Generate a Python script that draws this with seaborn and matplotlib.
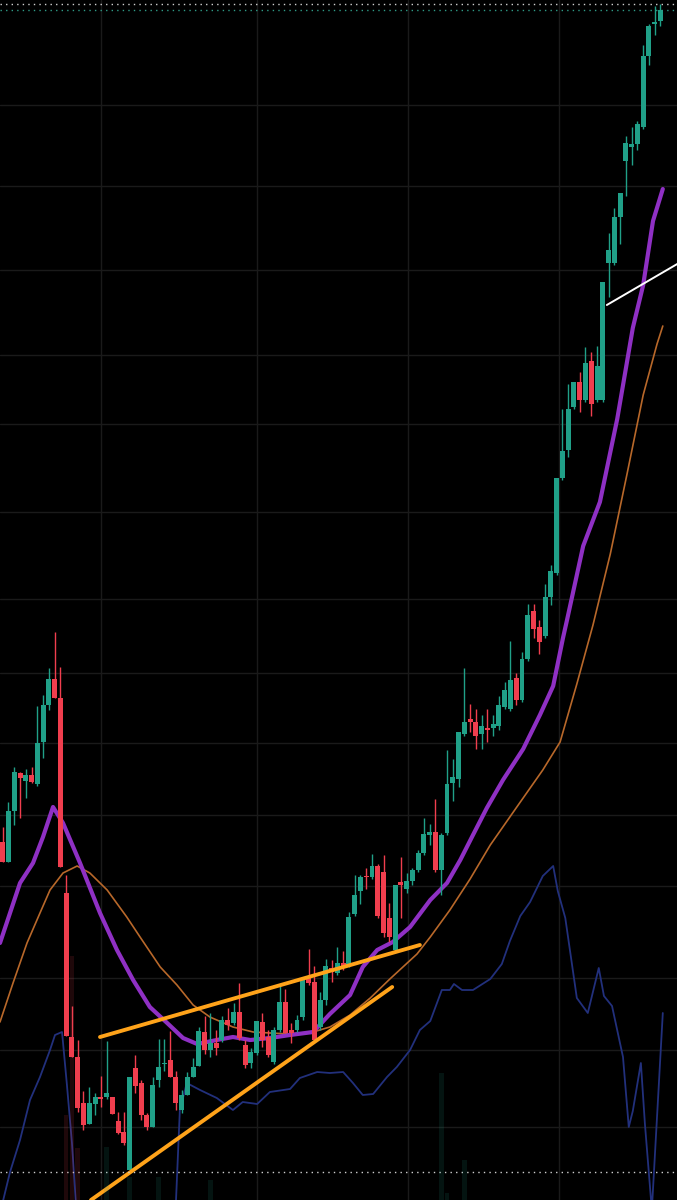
import numpy as np
import pandas as pd
import matplotlib
matplotlib.use("Agg")
import matplotlib.pyplot as plt
import seaborn as sns

# Bougies (index de barre = position), prix en unités du graphique
opens = [35.8, 33.8, 38.9, 42.7, 41.9, 42.5, 41.6, 45.8, 49.5, 52.1,
         50.2, 30.7, 16.3, 14.3, 9.7, 7.6, 9.6, 10.3, 10.3, 10.3,
         7.9, 6.8, 3.0, 13.2, 11.7, 8.5, 7.3, 12.0, 13.6, 14.0,
         12.3, 9.0, 10.5, 12.3, 13.4, 16.8, 15.0, 15.7, 16.0, 18.0,
         17.7, 18.8, 15.5, 13.7, 14.7, 17.8, 16.3, 13.8, 17.0, 19.8,
         17.0, 17.0, 18.3, 22.2, 21.8, 17.3, 20.0, 23.2, 22.7, 23.7,
         23.5, 28.6, 30.9, 32.4, 32.3, 33.4, 32.8, 28.2, 25.0, 31.8,
         31.1, 31.9, 33.0, 34.7, 36.5, 36.8, 33.0, 36.7, 41.7, 42.1,
         46.6, 48.1, 47.8, 46.6, 47.2, 47.2, 47.4, 49.3, 49.1, 52.2,
         50.0, 54.1, 58.9, 57.3, 56.4, 60.3, 62.7, 72.2, 75.0, 79.3,
         81.8, 80.0, 83.9, 80.0, 80.0, 93.7, 93.7, 98.3, 103.9, 105.3,
         105.6, 107.3, 114.4, 117.6, 117.9]
highs = [37.3, 39.8, 43.3, 42.8, 43.1, 43.3, 49.4, 50.5, 53.2, 56.8,
         53.3, 32.5, 19.4, 16.0, 10.9, 11.3, 10.7, 12.4, 15.9, 10.3,
         8.8, 8.8, 12.3, 14.5, 12.0, 8.7, 12.3, 16.1, 16.1, 16.9,
         12.9, 11.0, 12.8, 14.2, 17.3, 18.4, 18.7, 17.0, 18.4, 19.2,
         19.7, 21.7, 16.0, 15.2, 17.9, 18.7, 17.0, 17.3, 21.6, 21.1,
         17.7, 18.5, 22.3, 25.1, 23.4, 20.8, 24.1, 24.0, 25.3, 24.9,
         28.8, 32.5, 32.5, 33.2, 34.6, 33.6, 34.5, 29.7, 31.5, 34.3,
         32.7, 33.2, 35.0, 38.2, 37.6, 40.1, 36.7, 45.0, 44.1, 46.8,
         53.2, 49.6, 49.1, 48.5, 49.1, 48.5, 50.4, 51.8, 55.9, 52.7,
         54.8, 59.6, 59.6, 58.0, 61.6, 63.5, 72.2, 79.1, 81.6, 81.8,
         82.8, 85.3, 84.8, 85.4, 91.8, 96.7, 99.2, 100.7, 106.4, 107.3,
         107.9, 115.5, 117.6, 119.4, 119.6]
lows = [33.8, 33.8, 37.5, 38.2, 40.2, 41.7, 41.4, 44.2, 49.0, 50.2,
        33.3, 16.4, 14.3, 8.8, 7.0, 7.6, 8.5, 9.3, 10.1, 8.6,
        6.6, 5.5, 2.8, 10.7, 8.0, 7.0, 7.3, 11.3, 12.9, 12.3,
        9.0, 8.7, 10.5, 12.3, 13.4, 14.6, 14.3, 14.5, 15.8, 17.0,
        17.5, 16.0, 13.2, 13.2, 14.5, 15.3, 14.3, 13.6, 16.8, 16.7,
        15.7, 16.8, 18.0, 21.5, 15.8, 17.0, 19.5, 21.8, 22.5, 23.0,
        23.3, 28.4, 29.6, 31.1, 32.1, 28.2, 26.3, 25.8, 24.8, 28.2,
        30.7, 31.5, 32.8, 34.5, 35.5, 32.8, 30.5, 36.5, 39.9, 41.3,
        46.4, 46.8, 45.1, 45.1, 45.8, 46.4, 47.0, 49.1, 48.9, 49.5,
        49.8, 53.9, 56.2, 54.6, 56.2, 59.5, 62.5, 72.0, 74.3, 79.1,
        78.8, 79.8, 78.4, 79.8, 79.8, 90.3, 93.5, 95.6, 100.4, 103.5,
        105.0, 107.1, 113.5, 116.5, 117.4]
closes = [33.8, 38.9, 42.8, 42.2, 42.5, 41.8, 45.7, 49.5, 52.1, 50.2,
          33.3, 16.4, 14.3, 9.2, 7.5, 9.7, 10.3, 10.1, 10.7, 8.6,
          6.7, 5.7, 12.3, 11.4, 8.5, 7.3, 11.5, 13.3, 13.7, 12.3,
          9.7, 10.5, 12.3, 13.3, 16.9, 15.0, 15.7, 15.2, 18.0, 17.5,
          18.8, 16.2, 13.5, 14.8, 17.9, 16.0, 14.5, 17.0, 19.8, 16.7,
          16.7, 18.0, 22.2, 21.7, 16.0, 20.0, 23.4, 22.8, 23.7, 23.3,
          28.3, 30.5, 32.3, 32.3, 33.4, 28.4, 26.7, 26.3, 31.5, 31.5,
          31.9, 33.0, 34.7, 36.6, 36.8, 33.0, 36.5, 41.6, 42.3, 46.8,
          47.8, 47.8, 46.4, 47.4, 47.0, 47.6, 49.5, 51.0, 52.0, 50.0,
          54.1, 58.5, 57.1, 55.8, 60.3, 62.9, 72.2, 74.9, 79.1, 81.8,
          80.0, 83.7, 79.6, 83.4, 91.8, 95.0, 98.3, 100.7, 105.7, 105.6,
          107.6, 114.4, 117.4, 117.8, 119.0]

# Volume (seules les barres visibles)
vol_idx = [11, 12, 13, 18, 22, 27, 36, 76, 77, 80]
vol_val = [7.1, 20.3, 4.3, 4.4, 1.9, 1.9, 1.7, 10.6, 0.6, 3.3]

# Moyenne mobile rapide (violet)
ma_fast_idx = [-0.47, 3.0, 5.25, 6.98, 8.72, 10.45, 13.4, 16.86, 19.8, 22.6,
               25.5, 28.5, 31.25, 33.7, 37.1, 39.9, 42.9, 46.3, 49.8, 53.8,
               56.7, 60.2, 62.4, 64.9, 67.6, 70.6, 74.1, 77.0, 79.3, 81.5,
               83.9, 86.7, 90.2, 93.1, 95.4, 97.1, 97.8, 100.6, 103.5, 106.5,
               109.2, 111.0, 112.7, 114.4]
ma_fast_val = [25.7, 31.7, 33.7, 36.3, 39.3, 37.7, 33.7, 28.7, 25.0, 22.0,
               19.3, 17.7, 16.2, 15.6, 16.0, 16.3, 16.0, 16.2, 16.5, 16.8,
               18.6, 20.5, 23.3, 25.0, 25.8, 27.3, 30.0, 31.7, 34.0, 36.5,
               39.2, 42.0, 45.1, 48.5, 51.4, 56.2, 58.0, 65.4, 69.8, 78.1,
               87.2, 91.5, 97.9, 101.1]

# Moyenne mobile lente (brun)
ma_slow_idx = [-0.47, 1.79, 4.21, 6.46, 8.2, 10.45, 12.9, 15.1, 18.1, 21.5,
               23.8, 27.3, 30.2, 33.0, 35.9, 39.9, 43.4, 46.3, 49.8, 53.8,
               56.7, 60.2, 63.7, 67.1, 71.8, 74.1, 77.5, 81.0, 84.5, 89.1,
               93.6, 96.6, 99.5, 102.3, 105.3, 108.2, 111.0, 113.4, 114.4]
ma_slow_val = [17.8, 21.7, 25.7, 28.7, 31.0, 32.7, 33.4, 32.7, 31.0, 28.3,
               26.3, 23.3, 21.5, 19.5, 18.3, 17.3, 16.8, 16.7, 16.6, 16.8,
               17.3, 18.5, 20.2, 22.1, 24.6, 26.3, 29.0, 32.1, 35.5, 39.3,
               43.0, 45.8, 51.6, 57.5, 64.6, 72.6, 80.5, 85.6, 87.4]

# Indicateur bleu : deux segments, il sort du cadre entre les deux
osc_seg = [0] * 11 + [1] * 48
osc_idx = [-0.12, 1.27, 3.0, 4.73, 6.46, 8.2, 9.06, 10.28, 11.1, 12.0, 12.7,
           30.0, 30.7, 31.9, 34.2, 37.1, 39.9, 41.6, 44.1, 46.3, 49.8,
           51.5, 54.5, 56.7, 59.0, 60.7, 62.4, 64.2, 66.6, 68.3, 70.6,
           72.3, 74.1, 76.1, 77.5, 78.2, 79.6, 81.5, 84.5, 86.5, 87.9,
           89.7, 91.4, 93.6, 95.4, 96.2, 97.5, 99.5, 101.4, 103.3, 104.2,
           105.6, 107.5, 108.5, 109.2, 110.6, 111.3, 112.5, 114.4]
osc_val = [-0.5, 2.8, 6.0, 10.0, 12.3, 15.0, 16.5, 16.8, 11.7, 5.7, -0.5,
           -0.5, 9.0, 11.7, 11.0, 10.2, 9.0, 9.8, 9.6, 10.8, 11.1,
           12.2, 12.8, 12.7, 12.8, 11.7, 10.5, 10.6, 12.3, 13.3, 15.0,
           17.0, 17.9, 21.0, 21.0, 21.6, 21.0, 21.0, 22.1, 23.6, 25.9,
           28.4, 29.8, 32.4, 33.4, 30.9, 28.2, 20.2, 18.7, 23.2, 20.4,
           19.4, 14.3, 7.3, 8.9, 13.7, 7.6, -1.0, 18.7]

# Lignes de tendance tracées à la main
trend_upper = ([16.86, 72.3], [16.3, 25.5])
trend_lower = ([15.3, 67.5], [0.0, 21.3])
trend_white = ([104.7, 116.9], [89.5, 93.6])

# Grille
grid_prices = [109.5, 101.4, 93.0, 84.5, 77.6, 68.8, 60.1, 52.7, 45.7, 38.5, 31.4, 22.2, 15.0, 7.3]
grid_bars = [17, 44, 70.2, 96.4]

UP = '#20a088'
DOWN = '#f03e4e'

sns.set_theme(style='dark', rc={'axes.facecolor': '#000000', 'figure.facecolor': '#000000',
                                'grid.color': '#1a1a1a', 'grid.linewidth': 1.0,
                                'lines.solid_joinstyle': 'round', 'lines.solid_capstyle': 'round'})

fig = plt.figure(figsize=(6.77, 12), dpi=100)
ax = fig.add_axes([0, 0, 1, 1])
ax2 = ax.twinx()
ax2.set_ylim(0, 100)
ax2.axis('off')

df = pd.DataFrame({'o': opens, 'h': highs, 'l': lows, 'c': closes})
df['x'] = np.arange(len(df))
df['up'] = df['c'] >= df['o']
df['col'] = np.where(df['up'], UP, DOWN)

# volume
vcols = [UP if df.loc[i, 'up'] else DOWN for i in vol_idx]
ax2.bar(vol_idx, vol_val, width=0.8, color=vcols, alpha=0.13, lw=0, zorder=1)

# indicateur bleu
osc = pd.DataFrame({'x': osc_idx, 'y': osc_val, 'seg': osc_seg})
sns.lineplot(data=osc, x='x', y='y', units='seg', estimator=None, sort=False,
             color='#22307c', lw=1.3, ax=ax, zorder=2)

# moyennes mobiles
sns.lineplot(x=ma_slow_idx, y=ma_slow_val, sort=False, color='#b8682a', lw=1.2, ax=ax, zorder=3)
sns.lineplot(x=ma_fast_idx, y=ma_fast_val, sort=False, color='#8f30c4', lw=3.0, ax=ax, zorder=3)

# bougies
ax.vlines(df['x'], df['l'], df['h'], colors=df['col'], lw=1.0, zorder=4)
body_lo = np.minimum(df['o'], df['c'])
body_h = np.maximum((df['c'] - df['o']).abs(), 0.12)
ax.bar(df['x'], body_h, bottom=body_lo, width=0.86, color=df['col'], lw=0, zorder=5)

# tendances
sns.lineplot(x=trend_upper[0], y=trend_upper[1], color='#ffa31a', lw=2.8, ax=ax, zorder=6)
sns.lineplot(x=trend_lower[0], y=trend_lower[1], color='#ffa31a', lw=2.8, ax=ax, zorder=6)
sns.lineplot(x=trend_white[0], y=trend_white[1], color='#ffffff', lw=1.4, ax=ax, zorder=6)

# lignes pointillées : plus haut, dernier cours, plus bas
ax.axhline(max(highs), color='#d0d0d0', lw=1.0, ls=(0, (1, 3)), zorder=7)
ax.axhline(closes[-1], color='#2f9c88', lw=1.0, ls=(0, (1, 3)), zorder=7)
ax.axhline(min(lows), color='#d0d0d0', lw=1.0, ls=(0, (1, 3)), zorder=7)

ax.set_xlim(-0.47, 116.86)
ax.set_ylim(0, 120)
ax.set_xticks(grid_bars)
ax.set_yticks(grid_prices)
ax.grid(True, color='#1a1a1a', lw=1.0)
ax.set_axisbelow(True)
ax.tick_params(length=0, labelleft=False, labelbottom=False)
ax.set_xlabel('')
ax.set_ylabel('')
for s in ax.spines.values():
    s.set_visible(False)

fig.savefig('out.png', dpi=100, facecolor='#000000')
